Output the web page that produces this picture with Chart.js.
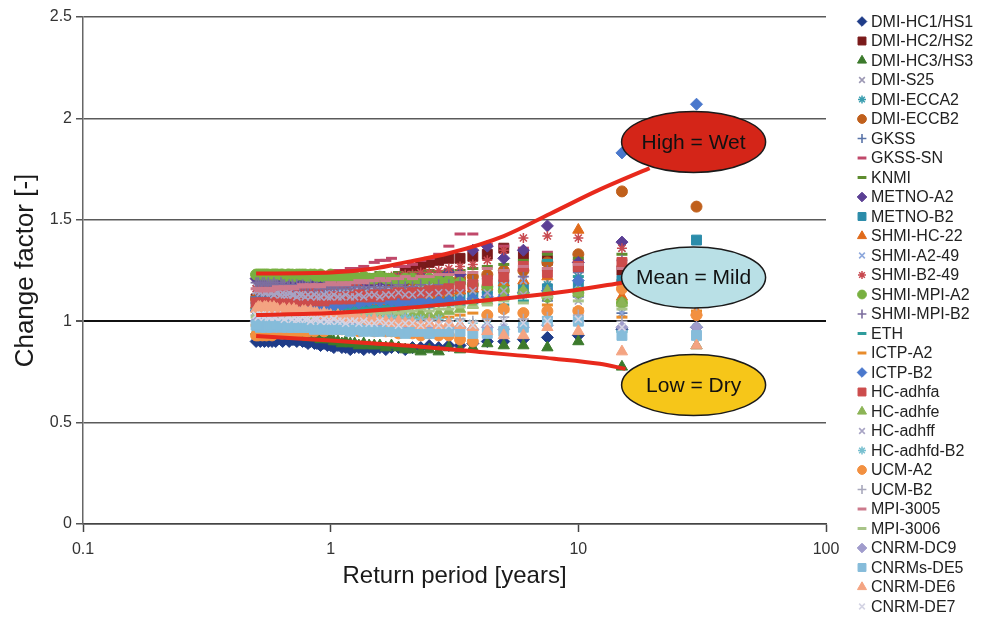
<!DOCTYPE html>
<html><head><meta charset="utf-8">
<script src="https://cdn.jsdelivr.net/npm/chart.js@4.4.1/dist/chart.umd.min.js"></script>
<style>html,body{margin:0;padding:0;background:#fff;overflow:hidden}</style>
</head><body>
<canvas id="c" width="984" height="619"></canvas>
<script>
// ---------- DATA ----------
const returnPeriods = [30, 15, 10, 7.5, 6, 5, 4.29, 3.75, 3.33, 3,
  2.73, 2.5, 2.31, 2.14, 2, 1.88, 1.76, 1.67, 1.58, 1.5,
  1.43, 1.36, 1.3, 1.25, 1.2, 1.15, 1.11, 1.07, 1.03, 1,
  0.97, 0.94, 0.91, 0.88, 0.86, 0.83, 0.81, 0.79, 0.77, 0.75,
  0.73, 0.71, 0.7, 0.68, 0.67, 0.65, 0.64, 0.63, 0.61, 0.6,
  0.59, 0.58, 0.57, 0.56, 0.55, 0.54, 0.53, 0.52, 0.51, 0.5];

const seriesNames = ['DMI-HC1/HS1','DMI-HC2/HS2','DMI-HC3/HS3','DMI-S25','DMI-ECCA2','DMI-ECCB2','GKSS','GKSS-SN','KNMI','METNO-A2','METNO-B2','SHMI-HC-22','SHMI-A2-49','SHMI-B2-49','SHMI-MPI-A2','SHMI-MPI-B2','ETH','ICTP-A2','ICTP-B2','HC-adhfa','HC-adhfe','HC-adhff','HC-adhfd-B2','UCM-A2','UCM-B2','MPI-3005','MPI-3006','CNRM-DC9','CNRMs-DE5','CNRM-DE6','CNRM-DE7'];

const dmiHc1 = [0.97,0.96,0.93,0.92,0.91,0.90,0.90,0.89,0.88,0.88,
 0.87,0.88,0.87,0.87,0.86,0.87,0.87,0.86,0.87,0.86,
 0.87,0.86,0.87,0.87,0.86,0.87,0.87,0.88,0.87,0.88,
 0.88,0.89,0.88,0.89,0.89,0.90,0.89,0.90,0.90,0.91,
 0.90,0.91,0.91,0.90,0.91,0.91,0.90,0.91,0.91,0.90,
 0.91,0.90,0.91,0.90,0.91,0.90,0.91,0.90,0.91,0.90];
const dmiHc2 = [1.22,1.25,1.27,1.30,1.33,1.36,1.33,1.32,1.31,1.31,
 1.30,1.29,1.27,1.26,1.24,1.22,1.21,1.19,1.18,1.17,
 1.16,1.16,1.15,1.14,1.14,1.13,1.13,1.12,1.12,1.12,
 1.11,1.11,1.11,1.10,1.10,1.10,1.10,1.09,1.10,1.09,
 1.09,1.09,1.10,1.09,1.09,1.10,1.09,1.09,1.10,1.09,
 1.10,1.09,1.10,1.10,1.09,1.10,1.10,1.11,1.10,1.11];
const dmiHc3 = [0.88,0.775,0.90,0.87,0.88,0.88,0.89,0.87,0.86,0.87,
 0.85,0.86,0.85,0.86,0.86,0.87,0.88,0.87,0.88,0.88,
 0.88,0.89,0.88,0.89,0.89,0.90,0.89,0.90,0.90,0.91,
 0.91,0.92,0.91,0.92,0.92,0.93,0.92,0.93,0.93,0.93,
 0.94,0.93,0.94,0.94,0.93,0.94,0.94,0.95,0.94,0.95,
 0.95,0.94,0.95,0.95,0.94,0.95,0.95,0.94,0.95,0.95];
const dmiS25 = [1.12,1.36,1.22,1.20,1.24,1.21,1.22,1.21,1.20,1.20,
 1.20,1.19,1.20,1.19,1.19,1.18,1.19,1.18,1.18,1.19,
 1.18,1.18,1.19,1.18,1.18,1.17,1.18,1.18,1.17,1.18,
 1.17,1.18,1.17,1.17,1.18,1.17,1.17,1.18,1.17,1.17,
 1.18,1.17,1.17,1.18,1.17,1.18,1.17,1.18,1.18,1.17,
 1.18,1.18,1.17,1.18,1.19,1.18,1.18,1.19,1.18,1.19];
const dmiEcca2 = [0.97,0.95,1.22,1.18,1.16,1.14,1.15,1.16,1.16,1.17,
 1.17,1.16,1.17,1.16,1.16,1.15,1.16,1.15,1.15,1.16,
 1.15,1.14,1.15,1.14,1.15,1.14,1.14,1.13,1.14,1.13,
 1.13,1.14,1.13,1.13,1.12,1.13,1.13,1.12,1.13,1.12,
 1.12,1.13,1.12,1.12,1.13,1.12,1.12,1.13,1.12,1.12,
 1.13,1.12,1.12,1.13,1.12,1.13,1.12,1.13,1.13,1.12];
const dmiEccb2 = [1.565,1.64,1.33,1.29,1.25,1.25,1.23,1.22,1.21,1.20,
 1.19,1.18,1.18,1.17,1.17,1.16,1.16,1.15,1.15,1.15,
 1.14,1.14,1.14,1.13,1.13,1.13,1.12,1.12,1.12,1.12,
 1.11,1.11,1.12,1.11,1.11,1.10,1.11,1.11,1.10,1.11,
 1.10,1.10,1.11,1.10,1.10,1.11,1.10,1.10,1.11,1.10,
 1.11,1.10,1.10,1.11,1.10,1.11,1.11,1.10,1.11,1.11];
const gkss = [1.10,1.04,1.12,1.10,1.12,1.13,1.14,1.14,1.15,1.15,
 1.15,1.14,1.15,1.15,1.14,1.14,1.15,1.14,1.14,1.13,
 1.14,1.13,1.13,1.14,1.13,1.13,1.12,1.13,1.13,1.12,
 1.12,1.13,1.12,1.12,1.12,1.11,1.12,1.12,1.11,1.12,
 1.11,1.12,1.11,1.11,1.12,1.11,1.11,1.12,1.11,1.11,
 1.12,1.11,1.12,1.11,1.11,1.12,1.11,1.12,1.11,1.12];
const gkssSn = [1.10,1.20,1.30,1.34,1.36,1.37,1.38,1.43,1.43,1.37,
 1.33,1.31,1.30,1.28,1.27,1.27,1.31,1.30,1.30,1.29,
 1.26,1.27,1.26,1.25,1.26,1.25,1.25,1.24,1.25,1.24,
 1.24,1.23,1.24,1.23,1.23,1.23,1.22,1.23,1.22,1.22,
 1.22,1.21,1.22,1.21,1.22,1.21,1.21,1.22,1.21,1.21,
 1.21,1.20,1.21,1.21,1.20,1.21,1.20,1.21,1.20,1.21];
const knmi = [1.15,1.33,1.31,1.33,1.30,1.28,1.27,1.26,1.25,1.25,
 1.24,1.25,1.24,1.24,1.23,1.24,1.23,1.23,1.24,1.23,
 1.23,1.22,1.23,1.23,1.22,1.23,1.22,1.22,1.23,1.22,
 1.22,1.23,1.22,1.22,1.23,1.22,1.22,1.23,1.22,1.23,
 1.22,1.23,1.23,1.22,1.23,1.23,1.22,1.23,1.23,1.22,
 1.23,1.22,1.23,1.23,1.22,1.23,1.23,1.22,1.23,1.23];
const metnoA2 = [1.30,1.39,1.29,1.47,1.35,1.31,1.37,1.35,1.23,1.24,
 1.22,1.21,1.22,1.21,1.20,1.21,1.20,1.20,1.19,1.20,
 1.19,1.19,1.20,1.19,1.19,1.18,1.19,1.19,1.18,1.19,
 1.18,1.19,1.18,1.19,1.19,1.18,1.19,1.19,1.18,1.19,
 1.19,1.18,1.19,1.19,1.20,1.19,1.19,1.20,1.19,1.20,
 1.20,1.19,1.20,1.20,1.19,1.20,1.21,1.20,1.20,1.21];
const metnoB2 = [1.40,1.20,1.17,1.16,1.16,1.18,1.15,1.12,1.12,1.11,
 1.10,1.10,1.09,1.09,1.08,1.09,1.08,1.08,1.07,1.08,
 1.07,1.07,1.08,1.07,1.07,1.06,1.07,1.07,1.06,1.07,
 1.06,1.07,1.06,1.06,1.07,1.06,1.06,1.07,1.06,1.06,
 1.07,1.06,1.07,1.06,1.07,1.07,1.06,1.07,1.07,1.06,
 1.07,1.07,1.06,1.07,1.07,1.08,1.07,1.07,1.08,1.07];
const shmiHc22 = [1.045,1.12,1.45,1.22,1.20,1.19,1.17,1.16,1.15,1.14,
 1.13,1.13,1.12,1.12,1.11,1.12,1.11,1.11,1.10,1.11,
 1.10,1.10,1.11,1.10,1.09,1.10,1.09,1.09,1.10,1.09,
 1.09,1.08,1.09,1.09,1.08,1.09,1.08,1.08,1.09,1.08,
 1.08,1.07,1.08,1.08,1.07,1.08,1.07,1.08,1.07,1.07,
 1.08,1.07,1.07,1.08,1.07,1.07,1.08,1.07,1.07,1.08];
const shmiA249 = [1.25,1.04,1.18,1.15,1.20,1.18,1.19,1.17,1.18,1.17,
 1.16,1.17,1.16,1.16,1.15,1.16,1.15,1.15,1.16,1.15,
 1.15,1.14,1.15,1.15,1.14,1.15,1.14,1.14,1.15,1.14,
 1.14,1.15,1.14,1.14,1.15,1.14,1.15,1.14,1.15,1.14,
 1.15,1.14,1.15,1.15,1.14,1.15,1.15,1.16,1.15,1.15,
 1.16,1.15,1.16,1.16,1.15,1.16,1.16,1.17,1.16,1.16];
const shmiB249 = [1.28,1.36,1.41,1.42,1.41,1.35,1.30,1.28,1.27,1.26,
 1.25,1.24,1.24,1.23,1.23,1.22,1.22,1.21,1.21,1.20,
 1.20,1.20,1.19,1.19,1.19,1.18,1.18,1.18,1.17,1.17,
 1.17,1.17,1.16,1.16,1.17,1.16,1.16,1.16,1.15,1.16,
 1.16,1.15,1.16,1.16,1.15,1.16,1.15,1.16,1.16,1.15,
 1.16,1.16,1.15,1.16,1.16,1.15,1.16,1.16,1.15,1.16];
const shmiMpiA2 = [1.18,1.09,1.14,1.12,1.14,1.15,1.17,1.18,1.19,1.20,
 1.20,1.21,1.20,1.21,1.21,1.20,1.21,1.21,1.22,1.21,
 1.21,1.22,1.21,1.22,1.22,1.21,1.22,1.22,1.22,1.23,
 1.22,1.22,1.23,1.22,1.23,1.23,1.22,1.23,1.23,1.23,
 1.23,1.22,1.23,1.23,1.23,1.22,1.23,1.23,1.23,1.23,
 1.23,1.23,1.22,1.23,1.23,1.23,1.23,1.23,1.23,1.23];
const shmiMpiB2 = [1.20,1.30,1.24,1.25,1.22,1.24,1.21,1.20,1.19,1.18,
 1.18,1.17,1.18,1.17,1.17,1.18,1.17,1.17,1.16,1.17,
 1.17,1.16,1.17,1.17,1.16,1.17,1.16,1.17,1.17,1.16,
 1.17,1.17,1.16,1.17,1.17,1.18,1.17,1.17,1.18,1.17,
 1.18,1.17,1.18,1.18,1.17,1.18,1.18,1.19,1.18,1.18,
 1.19,1.18,1.18,1.19,1.18,1.19,1.19,1.18,1.19,1.19];
const eth = [1.10,0.95,1.22,1.30,1.10,1.08,1.10,1.09,1.08,1.08,
 1.08,1.07,1.08,1.07,1.07,1.06,1.07,1.07,1.06,1.07,
 1.06,1.06,1.07,1.06,1.06,1.05,1.06,1.06,1.05,1.06,
 1.05,1.06,1.05,1.05,1.06,1.05,1.05,1.06,1.05,1.05,
 1.06,1.05,1.05,1.06,1.05,1.06,1.05,1.05,1.06,1.05,
 1.05,1.06,1.05,1.05,1.06,1.05,1.06,1.05,1.05,1.06];
const ictpA2 = [1.05,1.02,1.06,1.08,1.04,1.05,1.03,1.04,1.03,1.02,
 1.02,1.01,1.02,1.01,1.01,1.00,1.01,1.01,1.00,1.01,
 1.00,1.00,1.01,1.00,1.00,0.99,1.00,1.00,0.99,1.00,
 0.99,1.00,0.99,0.99,1.00,0.99,0.99,1.00,0.99,0.99,
 0.98,0.99,0.98,0.98,0.99,0.98,0.98,0.99,0.98,0.98,
 0.98,0.97,0.98,0.98,0.97,0.98,0.97,0.98,0.97,0.98];
const ictpB2 = [2.07,1.83,1.20,1.15,1.14,1.12,1.12,1.11,1.10,1.10,
 1.10,1.09,1.10,1.09,1.10,1.09,1.10,1.11,1.10,1.11,
 1.10,1.10,1.09,1.10,1.09,1.09,1.08,1.09,1.08,1.08,
 1.08,1.07,1.08,1.07,1.07,1.08,1.07,1.07,1.06,1.07,
 1.06,1.07,1.06,1.06,1.07,1.06,1.06,1.05,1.06,1.06,
 1.05,1.06,1.05,1.05,1.06,1.05,1.05,1.06,1.05,1.05];
const hcAdhfa = [1.30,1.29,1.27,1.24,1.27,1.22,1.20,1.18,1.17,1.16,
 1.15,1.15,1.14,1.14,1.13,1.14,1.13,1.13,1.12,1.13,
 1.12,1.12,1.13,1.12,1.11,1.12,1.11,1.11,1.12,1.11,
 1.11,1.10,1.11,1.11,1.10,1.11,1.10,1.10,1.11,1.10,
 1.10,1.09,1.10,1.10,1.09,1.10,1.09,1.09,1.10,1.09,
 1.09,1.09,1.08,1.09,1.09,1.08,1.09,1.09,1.08,1.09];
const hcAdhfe = [1.12,1.09,1.14,1.15,1.15,1.12,1.10,1.08,1.06,1.05,
 1.04,1.03,1.04,1.03,1.02,1.03,1.02,1.02,1.01,1.02,
 1.01,1.01,1.00,1.01,1.00,1.00,0.99,1.00,0.99,0.99,
 0.99,0.98,0.99,0.98,0.98,0.97,0.98,0.98,0.97,0.98,
 0.97,0.97,0.96,0.97,0.96,0.97,0.96,0.96,0.97,0.96,
 0.96,0.95,0.96,0.96,0.95,0.96,0.95,0.96,0.95,0.95];
const hcAdhff = [0.97,0.97,1.10,1.12,1.13,1.15,1.14,1.15,1.14,1.14,
 1.14,1.13,1.14,1.13,1.13,1.14,1.13,1.13,1.12,1.13,
 1.13,1.12,1.13,1.12,1.12,1.13,1.12,1.12,1.13,1.12,
 1.12,1.13,1.12,1.12,1.13,1.12,1.13,1.12,1.13,1.13,
 1.12,1.13,1.13,1.14,1.13,1.13,1.14,1.13,1.14,1.14,
 1.13,1.14,1.14,1.15,1.14,1.14,1.15,1.14,1.15,1.15];
const hcAdhfdB2 = [0.97,0.95,1.02,0.99,0.98,0.97,0.98,0.99,1.00,1.00,
 1.01,1.00,1.01,1.01,1.02,1.01,1.02,1.02,1.01,1.02,
 1.02,1.03,1.02,1.02,1.03,1.02,1.03,1.03,1.02,1.03,
 1.03,1.02,1.03,1.03,1.04,1.03,1.03,1.04,1.03,1.04,
 1.04,1.03,1.04,1.04,1.03,1.04,1.04,1.05,1.04,1.04,
 1.05,1.04,1.04,1.05,1.04,1.05,1.05,1.04,1.05,1.05];
const ucmA2 = [1.03,1.16,1.05,1.05,1.04,1.06,1.03,0.90,0.91,0.93,
 0.93,0.94,0.93,0.94,0.95,0.94,0.95,0.95,0.96,0.95,
 0.96,0.96,0.95,0.96,0.96,0.97,0.96,0.96,0.97,0.96,
 0.96,0.95,0.96,0.96,0.95,0.96,0.95,0.95,0.96,0.95,
 0.95,0.94,0.95,0.95,0.94,0.95,0.94,0.94,0.95,0.94,
 0.94,0.93,0.94,0.94,0.93,0.94,0.93,0.94,0.93,0.93];
const ucmB2 = [1.08,1.00,1.03,1.02,1.01,1.02,1.01,1.00,1.01,1.00,
 1.00,1.01,1.00,1.00,1.01,1.00,1.01,1.00,1.00,1.01,
 1.00,1.01,1.01,1.00,1.01,1.01,1.02,1.01,1.01,1.02,
 1.01,1.02,1.02,1.01,1.02,1.02,1.03,1.02,1.02,1.03,
 1.02,1.03,1.03,1.02,1.03,1.03,1.02,1.03,1.03,1.04,
 1.03,1.03,1.04,1.03,1.03,1.04,1.03,1.04,1.04,1.03];
const mpi3005 = [1.20,1.26,1.28,1.26,1.27,1.25,1.26,1.24,1.24,1.23,
 1.23,1.22,1.22,1.21,1.22,1.21,1.21,1.20,1.21,1.20,
 1.20,1.19,1.20,1.19,1.19,1.18,1.19,1.18,1.18,1.19,
 1.18,1.18,1.17,1.18,1.17,1.18,1.17,1.17,1.18,1.17,
 1.17,1.16,1.17,1.17,1.16,1.17,1.16,1.16,1.17,1.16,
 1.16,1.16,1.15,1.16,1.16,1.15,1.16,1.15,1.16,1.16];
const mpi3006 = [1.10,1.06,1.10,1.12,1.09,1.10,1.08,1.07,1.07,1.06,
 1.06,1.05,1.06,1.05,1.05,1.04,1.05,1.04,1.04,1.05,
 1.04,1.04,1.03,1.04,1.03,1.04,1.03,1.03,1.04,1.03,
 1.03,1.02,1.03,1.03,1.02,1.03,1.02,1.03,1.02,1.02,
 1.03,1.02,1.02,1.03,1.02,1.02,1.03,1.02,1.02,1.03,
 1.02,1.03,1.02,1.02,1.03,1.02,1.03,1.02,1.03,1.02];
const cnrmDc9 = [0.97,0.97,1.00,0.98,0.97,0.96,0.97,0.96,0.97,0.96,
 0.96,0.97,0.96,0.96,0.97,0.96,0.97,0.97,0.96,0.97,
 0.97,0.96,0.97,0.97,0.98,0.97,0.97,0.98,0.97,0.98,
 0.98,0.97,0.98,0.98,0.97,0.98,0.98,0.99,0.98,0.98,
 0.99,0.98,0.98,0.99,0.98,0.99,0.99,0.98,0.99,0.99,
 0.99,1.00,0.99,0.99,1.00,0.99,1.00,0.99,1.00,1.00];
const cnrmsDe5 = [0.93,0.93,1.00,1.00,0.97,0.95,0.94,0.94,0.95,0.95,
 0.95,0.94,0.95,0.95,0.94,0.95,0.95,0.96,0.95,0.95,
 0.96,0.95,0.96,0.96,0.95,0.96,0.96,0.97,0.96,0.96,
 0.97,0.96,0.97,0.97,0.96,0.97,0.97,0.98,0.97,0.97,
 0.98,0.97,0.97,0.98,0.97,0.98,0.98,0.97,0.98,0.98,
 0.98,0.97,0.98,0.98,0.97,0.98,0.98,0.97,0.98,0.98];
const cnrmDe6 = [0.88,0.85,0.95,0.97,0.93,0.93,0.95,0.97,0.98,0.99,
 0.98,0.99,0.98,0.99,0.99,1.00,0.99,1.00,1.00,1.01,
 1.00,1.01,1.01,1.02,1.01,1.02,1.02,1.03,1.02,1.03,
 1.03,1.04,1.03,1.04,1.04,1.05,1.04,1.05,1.05,1.04,
 1.05,1.06,1.05,1.06,1.05,1.06,1.06,1.05,1.06,1.06,
 1.07,1.06,1.07,1.06,1.07,1.07,1.06,1.07,1.07,1.06];
const cnrmDe7 = [1.10,0.97,1.01,1.00,0.99,1.00,0.99,0.98,0.99,0.98,
 0.98,0.99,0.98,0.99,0.99,0.98,0.99,0.99,1.00,0.99,
 0.99,1.00,0.99,1.00,1.00,0.99,1.00,1.00,1.01,1.00,
 1.00,1.01,1.00,1.01,1.01,1.00,1.01,1.01,1.02,1.01,
 1.01,1.02,1.01,1.02,1.02,1.01,1.02,1.02,1.03,1.02,
 1.02,1.03,1.02,1.02,1.03,1.02,1.03,1.03,1.02,1.03];

const seriesValues = [dmiHc1, dmiHc2, dmiHc3, dmiS25, dmiEcca2, dmiEccb2, gkss, gkssSn, knmi, metnoA2, metnoB2, shmiHc22, shmiA249, shmiB249, shmiMpiA2, shmiMpiB2, eth, ictpA2, ictpB2, hcAdhfa, hcAdhfe, hcAdhff, hcAdhfdB2, ucmA2, ucmB2, mpi3005, mpi3006, cnrmDc9, cnrmsDe5, cnrmDe6, cnrmDe7];

// scenario envelope curves
const highCurveT = [0.5, 1, 1.5, 2, 3, 5, 7.7, 12, 19.4];
const highCurveV = [1.235, 1.24, 1.26, 1.29, 1.335, 1.42, 1.53, 1.645, 1.755];
const meanCurveT = [0.5, 1, 2, 3, 6.4, 10, 15];
const meanCurveV = [1.03, 1.04, 1.065, 1.085, 1.125, 1.155, 1.19];
const lowCurveT = [0.5, 1, 1.5, 2, 4, 8, 12.2, 15.5];
const lowCurveV = [0.927, 0.905, 0.89, 0.88, 0.848, 0.815, 0.79, 0.765];

// scenario labels
const scenarioLabels = ['High = Wet', 'Mean = Mild', 'Low = Dry'];
const scenarioT = [29.2, 29.2, 29.2];
const scenarioV = [1.884, 1.215, 0.685];

const xTicks = [0.1, 1, 10, 100];
const yTicks = [0, 0.5, 1, 1.5, 2, 2.5];

// ---------- STYLES ----------
const seriesColors = ['#1f3c88','#7a1a1a','#3c7a2c','#9c98b4','#3a9eb0','#c0601c','#5a74a8','#c0486a','#5e8c2e','#5b3f94','#2b8caa','#e06a1a','#8ea8dc','#c84a50','#78b040','#7c6e9e','#2e9c9c','#e88c2c','#4a78cc','#cc4c4c','#8cb456','#a8a4c4','#78c0d0','#f29040','#a8a8bc','#cc7a8c','#a8c488','#a09ccc','#86bcda','#f4a482','#d4d4e4'];
const seriesShapes = ['rectRot','rect','triangle','crossRot','star','circle','cross','line','line','rectRot','rect','triangle','crossRot','star','circle','cross','line','line','rectRot','rect','triangle','crossRot','star','circle','cross','line','line','rectRot','rect','triangle','crossRot'];
const shapeRadius = {rectRot:6, rect:7, triangle:6.5, crossRot:5, star:5, circle:5.5, cross:5.5, line:5.5};
const shapeBorder = {rectRot:1, rect:1, triangle:1, crossRot:1.6, star:1.5, circle:1, cross:1.6, line:3};
const FONT = "'Liberation Sans', Arial, Helvetica, sans-serif";
Chart.defaults.font.family = FONT;

const datasets = seriesNames.map((name, k) => ({
  label: name,
  data: returnPeriods.map((t, i) => ({x: t, y: seriesValues[k][i]})),
  showLine: false,
  pointStyle: seriesShapes[k],
  pointRadius: shapeRadius[seriesShapes[k]],
  pointBackgroundColor: seriesColors[k],
  pointBorderColor: seriesColors[k],
  pointBorderWidth: shapeBorder[seriesShapes[k]],
  order: 100 - k
}));
function curve(label, T, V) {
  return {label, data: T.map((t, i) => ({x: t, y: V[i]})), showLine: true, borderColor: '#e8291c',
    borderWidth: 4, pointRadius: 0, tension: 0.4, cubicInterpolationMode: 'monotone', fill: false, order: 0};
}
datasets.push(curve('High', highCurveT, highCurveV), curve('Mean', meanCurveT, meanCurveV), curve('Low', lowCurveT, lowCurveV));

const scenarioFill = ['#d42518', '#b9e0e6', '#f6c619'];
const scenarioPlugin = {
  id: 'scenarios',
  afterDatasetsDraw(chart) {
    const {ctx, scales: {x, y}} = chart;
    scenarioLabels.forEach((txt, i) => {
      const cx = x.getPixelForValue(scenarioT[i]), cy = y.getPixelForValue(scenarioV[i]);
      ctx.save();
      ctx.beginPath();
      ctx.ellipse(cx, cy, 72, 30.5, 0, 0, Math.PI * 2);
      ctx.fillStyle = scenarioFill[i]; ctx.fill();
      ctx.lineWidth = 1.5; ctx.strokeStyle = '#1a1a1a'; ctx.stroke();
      ctx.fillStyle = '#111'; ctx.font = '21px ' + FONT;
      ctx.textAlign = 'center'; ctx.textBaseline = 'middle';
      ctx.fillText(txt, cx, cy + 1);
      ctx.restore();
    });
  }
};
const sideLegend = {
  id: 'sideLegend',
  afterDraw(chart) {
    const ctx = chart.ctx;
    ctx.save();
    ctx.font = '16px ' + FONT;
    ctx.textBaseline = 'middle'; ctx.textAlign = 'left';
    seriesNames.forEach((name, k) => {
      const yy = 21.5 + 19.5 * k;
      const shp = seriesShapes[k];
      ctx.fillStyle = seriesColors[k]; ctx.strokeStyle = seriesColors[k];
      ctx.lineWidth = shapeBorder[shp];
      if (Chart.helpers && Chart.helpers.drawPoint) {
        Chart.helpers.drawPoint(ctx, {pointStyle: shp, radius: shapeRadius[shp] * 0.8, rotation: 0, borderWidth: shapeBorder[shp]}, 862, yy);
      } else {
        ctx.beginPath(); ctx.arc(862, yy, 4, 0, Math.PI * 2); ctx.fill();
      }
      ctx.fillStyle = '#222';
      ctx.fillText(name, 871, yy + 1);
    });
    ctx.restore();
  }
};

new Chart(document.getElementById('c'), {
  type: 'scatter',
  data: {datasets},
  options: {
    responsive: false, animation: false, devicePixelRatio: 1,
    layout: {padding: {left: 0, right: 158, top: 17, bottom: 0}},
    plugins: {legend: {display: false}, tooltip: {enabled: false}},
    scales: {
      x: {
        type: 'logarithmic', min: 0.1, max: 100,
        afterBuildTicks: s => { s.ticks = xTicks.map(v => ({value: v})); },
        afterFit: s => { s.height = 95; s.paddingLeft = 0; s.paddingRight = 0; },
        ticks: {autoSkip: false, maxRotation: 0, padding: 8, font: {size: 16}, color: '#333', callback: v => String(v)},
        grid: {drawOnChartArea: false, drawTicks: true, tickLength: 8, tickColor: '#444', tickWidth: 1.5},
        border: {display: true, color: '#444', width: 1.5},
        title: {display: true, text: 'Return period [years]', font: {size: 24}, color: '#1a1a1a', padding: {top: 0, bottom: 28}}
      },
      y: {
        min: 0, max: 2.5,
        afterBuildTicks: s => { s.ticks = yTicks.map(v => ({value: v})); },
        afterFit: s => { s.width = 83; s.paddingTop = 0; s.paddingBottom = 0; },
        ticks: {padding: 4, font: {size: 16}, color: '#333', callback: v => String(v)},
        grid: {
          color: c => (c.tick && c.tick.value === 1) ? '#111' : '#5a5a5a',
          lineWidth: c => (c.tick && c.tick.value === 1) ? 2 : 1.5,
          tickLength: 7, tickColor: '#555', drawTicks: true
        },
        border: {display: true, color: '#666', width: 1.5},
        title: {display: true, text: 'Change factor [-]', font: {size: 26}, color: '#1a1a1a', padding: {top: 10, bottom: 0}}
      }
    }
  },
  plugins: [scenarioPlugin, sideLegend]
});
</script>
</body></html>
